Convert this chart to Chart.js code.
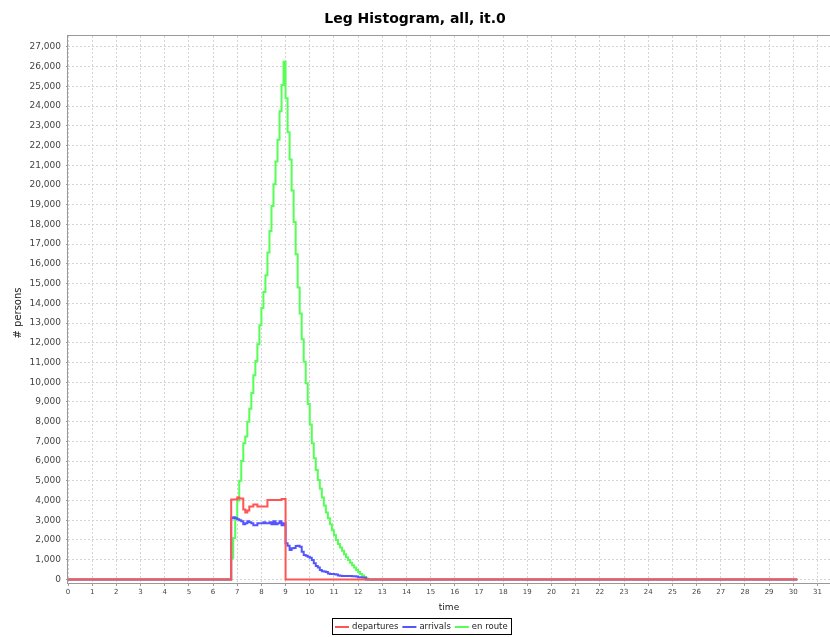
<!DOCTYPE html>
<html>
<head>
<meta charset="utf-8">
<script src="https://cdn.jsdelivr.net/npm/chart.js@4.4.0/dist/chart.umd.min.js"></script>
<style>
  html, body { margin: 0; padding: 0; background: #fff; }
  #chart { display: block; }
</style>
</head>
<body>
<canvas id="chart" width="830" height="637"></canvas>
<script>
// 5 minute bins, first non-empty bin is 81 (6:45)
const binHours = 5 / 60;
const firstBin = 81;
const lastBin = 362;

const departures = [4050, 4050, 4050, 4150, 4100, 4100, 3550, 3400, 3500,
  3700, 3700, 3800, 3800, 3700, 3700, 3700, 3700, 3700,
  4030, 4030, 4030, 4030, 4030, 4030, 4030, 4080, 4080];

const arrivals = [3100, 3150, 3100, 3050, 3000, 2950, 2800, 2850, 2950, 2900,
  2850, 2750, 2750, 2850, 2850, 2850, 2900, 2850, 2850, 2900,
  2800, 2950, 2800, 2850, 2950, 2750, 2850,
  1830, 1710, 1490, 1580, 1600, 1700, 1710, 1660, 1410, 1240,
  1200, 1150, 1100, 990, 820, 680, 600, 480, 420, 400,
  380, 300, 280, 270, 260, 250, 200, 190, 180, 180,
  170, 170, 170, 160, 160, 150, 110, 110, 100, 90];

const enRoute = [1100, 2100, 3100, 4000, 5000, 6000, 6900, 7250, 8000, 8650,
  9450, 10350, 11080, 11920, 12890, 13760, 14570, 15420, 16570, 17660,
  18930, 20030, 21190, 22290, 23740, 25070, 26250,
  24390, 22670, 21290, 19720, 18120, 16480, 14800, 13480, 12180, 11030,
  9950, 8900, 7850, 6900, 6150, 5550, 5040, 4600, 4150, 3750,
  3400, 3100, 2800, 2500, 2250, 2000, 1800, 1620, 1450, 1280,
  1120, 980, 850, 720, 600, 480, 380, 280, 200, 120, 50, 0];

const seriesNames = ['departures', 'arrivals', 'en route'];
const seriesColors = ['#ff5555', '#5555ff', '#55ff55'];

const xTicks = [0, 1, 2, 3, 4, 5, 6, 7, 8, 9, 10, 11, 12, 13, 14, 15, 16, 17, 18, 19, 20,
  21, 22, 23, 24, 25, 26, 27, 28, 29, 30, 31];
const yTicks = [0, 1000, 2000, 3000, 4000, 5000, 6000, 7000, 8000, 9000, 10000,
  11000, 12000, 13000, 14000, 15000, 16000, 17000, 18000, 19000, 20000,
  21000, 22000, 23000, 24000, 25000, 26000, 27000];

function toPoints(values) {
  const pts = [{ x: 0, y: 0 }];
  values.forEach((v, i) => pts.push({ x: (firstBin + i) * binHours, y: v }));
  pts.push({ x: (firstBin + values.length) * binHours, y: 0 });
  pts.push({ x: lastBin * binHours, y: 0 });
  return pts;
}

const font = '"DejaVu Sans", Verdana, sans-serif';

// title, axis titles, frame and boxed legend
const decor = {
  id: 'decor',
  beforeDatasetsDraw(chart) {
    const { ctx, chartArea: a } = chart;
    ctx.save();
    ctx.strokeStyle = '#999';
    ctx.lineWidth = 1;
    ctx.strokeRect(a.left - 0.5, a.top - 0.5, a.right - a.left + 1, a.bottom - a.top + 1);
    ctx.restore();
  },
  afterDraw(chart) {
    const ctx = chart.ctx;
    ctx.save();
    ctx.fillStyle = '#000';
    ctx.textAlign = 'center';
    ctx.textBaseline = 'alphabetic';
    ctx.font = 'bold 14px ' + font;
    ctx.fillText('Leg Histogram, all, it.0', 415, 23);

    ctx.font = '9px ' + font;
    ctx.fillStyle = '#222';
    ctx.fillText('time', 449, 610);

    ctx.save();
    ctx.translate(21, 313);
    ctx.rotate(-Math.PI / 2);
    ctx.font = '10px ' + font;
    ctx.fillText('# persons', 0, 0);
    ctx.restore();

    // legend, laid out from measured text widths and centred in the box
    ctx.font = '8.5px ' + font;
    const lineLen = 14, gapIn = 3, gapOut = 4;
    const widths = seriesNames.map(n => ctx.measureText(n).width);
    let total = 0;
    widths.forEach((w, i) => { total += lineLen + gapIn + w + (i < widths.length - 1 ? gapOut : 0); });
    const boxW = total + 6;
    const boxX = Math.round(421 - boxW / 2) + 0.5;
    ctx.strokeStyle = '#000';
    ctx.lineWidth = 1;
    ctx.strokeRect(boxX, 618.5, Math.round(boxW), 16);
    ctx.textAlign = 'left';
    ctx.textBaseline = 'middle';
    let x = boxX + 2.5;
    seriesNames.forEach((name, i) => {
      ctx.strokeStyle = seriesColors[i];
      ctx.lineWidth = 2;
      ctx.beginPath();
      ctx.moveTo(x, 627);
      ctx.lineTo(x + lineLen, 627);
      ctx.stroke();
      x += lineLen + gapIn;
      ctx.fillStyle = '#222';
      ctx.fillText(name, x, 627);
      x += widths[i] + gapOut;
    });
    ctx.restore();
  }
};

new Chart(document.getElementById('chart').getContext('2d'), {
  type: 'line',
  data: {
    datasets: [
      { label: seriesNames[0], data: toPoints(departures), borderColor: seriesColors[0] },
      { label: seriesNames[1], data: toPoints(arrivals), borderColor: seriesColors[1] },
      { label: seriesNames[2], data: toPoints(enRoute), borderColor: seriesColors[2] },
    ],
  },
  options: {
    responsive: false,
    animation: false,
    devicePixelRatio: 1,
    layout: { padding: { top: 36, left: 0, right: 0, bottom: 0 } },
    elements: {
      line: { borderWidth: 2, stepped: true, fill: false, tension: 0 },
      point: { radius: 0, hoverRadius: 0 },
    },
    plugins: {
      legend: { display: false },
      title: { display: false },
      tooltip: { enabled: false },
    },
    scales: {
      x: {
        type: 'linear',
        min: 0,
        max: 31.52,
        afterBuildTicks: (s) => { s.ticks = xTicks.map(v => ({ value: v })); },
        afterFit: (s) => { s.height = 54; },
        border: { display: false, dash: [2, 2] },
        grid: {
          color: '#d4d4d4',
          tickColor: '#999',
          tickBorderDash: [1, 0],
          tickLength: 3,
        },
        ticks: {
          color: '#444',
          font: { family: font, size: 7 },
          padding: 2,
          maxRotation: 0,
          autoSkip: false,
        },
      },
      y: {
        type: 'linear',
        min: -180,
        max: 27550,
        afterBuildTicks: (s) => { s.ticks = yTicks.map(v => ({ value: v })); },
        afterFit: (s) => { s.width = 68; },
        border: { display: false, dash: [2, 2] },
        grid: {
          color: '#d4d4d4',
          tickColor: '#999',
          tickBorderDash: [1, 0],
          tickLength: 2,
        },
        ticks: {
          color: '#444',
          font: { family: font, size: 9 },
          padding: 5,
          autoSkip: false,
          callback: (v) => v.toLocaleString('en-US'),
        },
      },
    },
  },
  plugins: [decor],
});
</script>
</body>
</html>
